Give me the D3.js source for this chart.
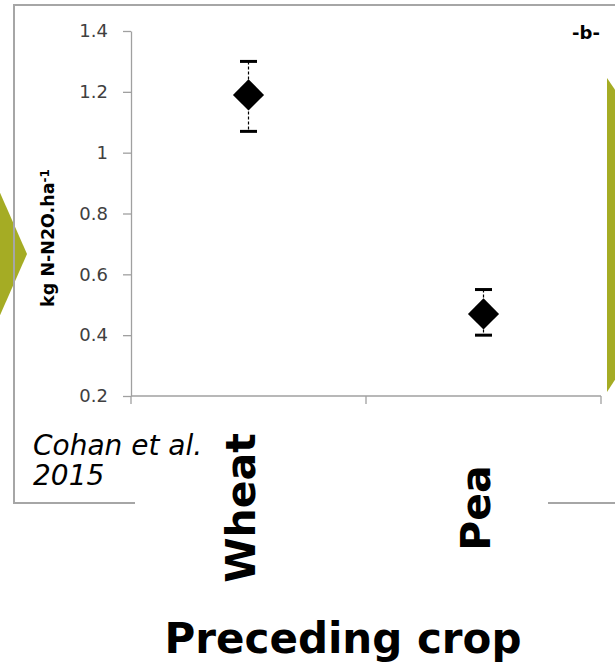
<!DOCTYPE html>
<html>
<head>
<meta charset="utf-8">
<script src="https://cdn.jsdelivr.net/npm/d3@7"></script>
<style>
  body { margin: 0; background: #fff; }
  svg { display: block; }
</style>
</head>
<body>
<svg id="chart"></svg>
<script>
// Chart values
const categories = ['Wheat', 'Pea']
const means = [1.19, 0.47]
const errUpper = [1.30, 0.55]
const errLower = [1.07, 0.40]
const yTicks = [0.2, 0.4, 0.6, 0.8, 1.0, 1.2, 1.4]

const svgWidth = 615
const svgHeight = 665
const plot = { left: 131, right: 601, top: 31, bottom: 396 }

const svg = d3.select('#chart')
  .attr('width', svgWidth)
  .attr('height', svgHeight)

// Decorative green arrows of the slide behind the chart
svg.append('polygon')
  .attr('points', '-10,170 27,254 -10,338')
  .attr('fill', '#a5ac24')
svg.append('polygon')
  .attr('points', '607,78 620,97 620,372 607,392')
  .attr('fill', '#a5ac24')

// Chart frame (open at the right, broken under the category labels)
const frame = svg.append('g')
  .attr('stroke', '#a6a6a6')
  .attr('stroke-width', 2)
  .attr('fill', 'none')
frame.append('path').attr('d', 'M615,5 H14 V503 H135')
frame.append('path').attr('d', 'M548,503 H615')

// Scales
const x = d3.scaleBand()
  .domain(categories)
  .range([plot.left, plot.right])

const y = d3.scaleLinear()
  .domain([0.2, 1.4])
  .range([plot.bottom, plot.top])

// Y axis
const yAxis = d3.axisLeft(y)
  .tickValues(yTicks)
  .tickFormat(d3.format('~g'))
  .tickSize(8)
  .tickSizeOuter(0)
  .tickPadding(15)

const yAxisGroup = svg.append('g')
  .attr('transform', `translate(${plot.left}, 0)`)
  .call(yAxis)
yAxisGroup.selectAll('path, line').attr('stroke', '#a0a0a0').attr('stroke-width', 1.3)
yAxisGroup.selectAll('text')
  .attr('fill', '#404040')
  .style('font-family', 'DejaVu Sans')
  .style('font-size', '18px')

// X axis: line plus ticks on the category boundaries
const xBounds = categories.map(c => x(c)).concat([x.range()[1]])
const xAxisGroup = svg.append('g')
  .attr('stroke', '#a0a0a0')
  .attr('stroke-width', 1.3)
xAxisGroup.append('line')
  .attr('x1', x.range()[0])
  .attr('x2', x.range()[1])
  .attr('y1', y(0.2))
  .attr('y2', y(0.2))
xAxisGroup.selectAll('.xtick')
  .data(xBounds)
  .enter()
  .append('line')
  .attr('class', 'xtick')
  .attr('x1', d => d)
  .attr('x2', d => d)
  .attr('y1', y(0.2))
  .attr('y2', y(0.2) + 8)

// Points with error bars
const points = categories.map((c, i) => ({
  cat: c,
  mean: means[i],
  hi: errUpper[i],
  lo: errLower[i]
}))
const cx = d => x(d.cat) + x.bandwidth() / 2

const marks = svg.append('g')
marks.selectAll('.whisker')
  .data(points)
  .enter()
  .append('line')
  .attr('class', 'whisker')
  .attr('x1', cx)
  .attr('x2', cx)
  .attr('y1', d => y(d.hi))
  .attr('y2', d => y(d.lo))
  .attr('stroke', '#000')
  .attr('stroke-width', 1.2)
  .attr('stroke-dasharray', '3,2')

const capWidth = 17
points.forEach(d => {
  [d.hi, d.lo].forEach(v => {
    marks.append('line')
      .attr('x1', cx(d) - capWidth / 2)
      .attr('x2', cx(d) + capWidth / 2)
      .attr('y1', y(v))
      .attr('y2', y(v))
      .attr('stroke', '#000')
      .attr('stroke-width', 3)
  })
})

marks.selectAll('.point')
  .data(points)
  .enter()
  .append('path')
  .attr('class', 'point')
  .attr('d', d3.symbol(d3.symbolSquare, 484))
  .attr('transform', d => `translate(${cx(d)}, ${y(d.mean)}) rotate(45)`)
  .attr('fill', '#000')

// Panel letter
svg.append('text')
  .attr('x', 586)
  .attr('y', 39)
  .attr('text-anchor', 'middle')
  .style('font-family', 'DejaVu Sans')
  .style('font-weight', 'bold')
  .style('font-size', '18px')
  .text('-b-')

// Y axis title
const yTitle = svg.append('text')
  .attr('text-anchor', 'middle')
  .attr('transform', 'translate(54, 238) rotate(-90)')
  .style('font-family', 'DejaVu Sans')
  .style('font-weight', 'bold')
  .style('font-size', '17.5px')
yTitle.append('tspan').text('kg N-N2O.ha')
yTitle.append('tspan')
  .attr('dy', '-0.45em')
  .style('font-size', '12px')
  .text('-1')

// Source note
const note = svg.append('text')
  .style('font-family', 'DejaVu Sans')
  .style('font-style', 'italic')
  .style('font-size', '28px')
note.append('tspan').attr('x', 33).attr('y', 455).text('Cohan et al.')
note.append('tspan').attr('x', 33).attr('y', 485).text('2015')

// Category labels, rotated
svg.selectAll('.cat-label')
  .data(categories)
  .enter()
  .append('text')
  .attr('class', 'cat-label')
  .attr('text-anchor', 'middle')
  .attr('transform', d => `translate(${x(d) + x.bandwidth() / 2 + 6}, 508) rotate(-90)`)
  .style('font-family', 'DejaVu Sans')
  .style('font-weight', 'bold')
  .style('font-size', '41px')
  .text(d => d)

// X axis title
svg.append('text')
  .attr('x', 343)
  .attr('y', 653)
  .attr('text-anchor', 'middle')
  .style('font-family', 'DejaVu Sans')
  .style('font-weight', 'bold')
  .style('font-size', '42px')
  .text('Preceding crop')
</script>
</body>
</html>
